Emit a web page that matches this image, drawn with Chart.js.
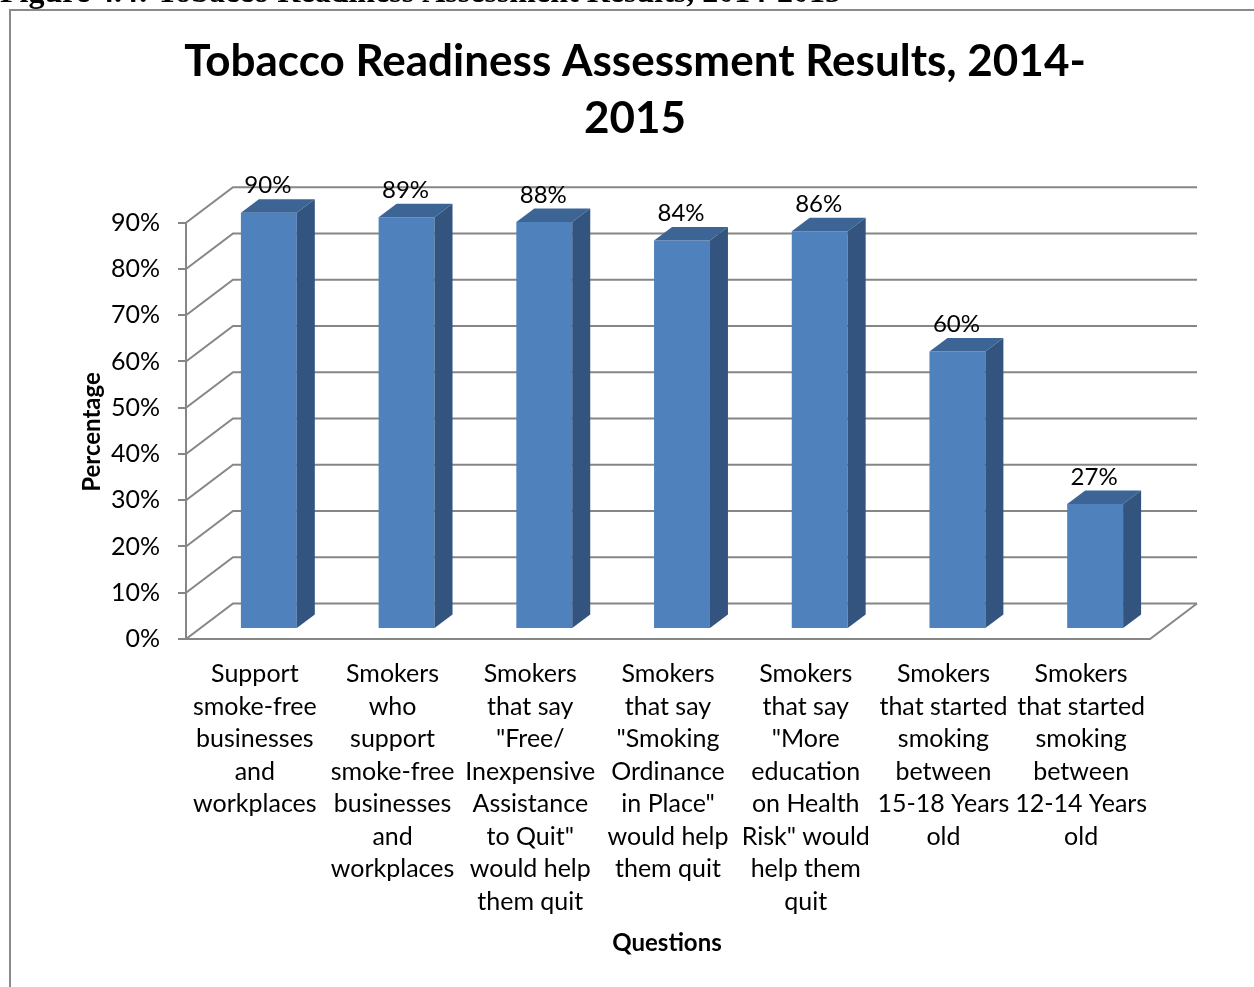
<!DOCTYPE html>
<html lang="en">
<head>
<meta charset="UTF-8">
<meta name="viewport" content="width=device-width, initial-scale=1.0">
<script src="https://cdn.jsdelivr.net/npm/chart.js"></script>
<title>Tobacco Readiness Assessment Results</title>
<style>
  body { margin: 0; background: #fff; }
  canvas { display: block; }
</style>
</head>
<body>
<canvas id="myChart" width="1254" height="987"></canvas>

<script>
  // 질문 (x축 라벨, 줄바꿈 그대로)
  const questions = [
    ['Support', 'smoke-free', 'businesses', 'and', 'workplaces'],
    ['Smokers', 'who', 'support', 'smoke-free', 'businesses', 'and', 'workplaces'],
    ['Smokers', 'that say', '"Free/', 'Inexpensive', 'Assistance', 'to Quit"', 'would help', 'them quit'],
    ['Smokers', 'that say', '"Smoking', 'Ordinance', 'in Place"', 'would help', 'them quit'],
    ['Smokers', 'that say', '"More', 'education', 'on Health', 'Risk" would', 'help them', 'quit'],
    ['Smokers', 'that started', 'smoking', 'between', '15-18 Years', 'old'],
    ['Smokers', 'that started', 'smoking', 'between', '12-14 Years', 'old']
  ];
  // 결과 (%)
  const percents = [90, 89, 88, 84, 86, 60, 27];
  // y축 눈금
  const yTickValues = [0, 10, 20, 30, 40, 50, 60, 70, 80, 90];
  const yTickLabels = ['0%', '10%', '20%', '30%', '40%', '50%', '60%', '70%', '80%', '90%'];

  const lineColor = '#868686';
  const frontColor = '#4F81BD';
  const topColor = '#3C6595';
  const sideColor = '#32547E';
  const font = 'Lato';

  // 3D 느낌 (앞 → 뒷벽)
  const depth = { x: 47, y: -35.5 };
  const barShift = { x: 14, y: -10 };
  const barDepth = { x: 18, y: -13.5 };

  const box3d = {
    id: 'box3d',
    beforeDraw(chart) {
      const { ctx, chartArea: a } = chart;
      const y = chart.scales.y;
      ctx.save();
      ctx.fillStyle = '#fff';
      ctx.fillRect(0, 0, chart.width, chart.height);

      // 테두리 + 잘린 캡션
      ctx.strokeStyle = '#8a8a8a';
      ctx.lineWidth = 2;
      ctx.strokeRect(10, 10, chart.width + 10, chart.height + 10);
      ctx.fillStyle = '#000';
      ctx.font = 'bold 32px "Liberation Serif"';
      ctx.textAlign = 'left';
      ctx.textBaseline = 'alphabetic';
      ctx.fillText('Figure 4.4: Tobacco Readiness Assessment Results, 2014-2015', 0, 2);

      // 옆벽, 뒷벽
      ctx.strokeStyle = lineColor;
      ctx.lineWidth = 2;
      yTickValues.forEach(v => {
        const py = y.getPixelForValue(v);
        ctx.beginPath();
        ctx.moveTo(a.left, py);
        ctx.lineTo(a.left + depth.x, py + depth.y);
        ctx.lineTo(a.right + depth.x, py + depth.y);
        ctx.stroke();
      });
      // 바닥
      ctx.beginPath();
      ctx.moveTo(a.left, a.bottom);
      ctx.lineTo(a.right, a.bottom);
      ctx.lineTo(a.right + depth.x, a.bottom + depth.y);
      ctx.stroke();
      ctx.restore();
    },
    beforeDatasetsDraw(chart) {
      chart.ctx.save();
      chart.ctx.translate(barShift.x, barShift.y);
    },
    afterDatasetsDraw(chart) {
      const ctx = chart.ctx;
      chart.getDatasetMeta(0).data.forEach((bar, i) => {
        const { x, y, base, width } = bar.getProps(['x', 'y', 'base', 'width'], true);
        const l = x - width / 2, r = x + width / 2;
        // 윗면
        ctx.fillStyle = topColor;
        ctx.beginPath();
        ctx.moveTo(l, y);
        ctx.lineTo(l + barDepth.x, y + barDepth.y);
        ctx.lineTo(r + barDepth.x, y + barDepth.y);
        ctx.lineTo(r, y);
        ctx.closePath();
        ctx.fill();
        // 옆면
        ctx.fillStyle = sideColor;
        ctx.beginPath();
        ctx.moveTo(r, y);
        ctx.lineTo(r + barDepth.x, y + barDepth.y);
        ctx.lineTo(r + barDepth.x, base + barDepth.y);
        ctx.lineTo(r, base);
        ctx.closePath();
        ctx.fill();
        // 값 라벨
        ctx.fillStyle = '#000';
        ctx.font = '24px ' + font;
        ctx.textAlign = 'center';
        ctx.textBaseline = 'middle';
        ctx.fillText(percents[i] + '%', x - 1, y - 27);
      });
      ctx.restore();
    },
    afterDraw(chart) {
      const ctx = chart.ctx;
      ctx.save();
      ctx.fillStyle = '#000';
      ctx.textAlign = 'center';
      ctx.textBaseline = 'middle';
      // 제목
      ctx.font = 'bold 44px ' + font;
      ctx.fillText('Tobacco Readiness Assessment Results, 2014-', 635, 62);
      ctx.fillText('2015', 635, 119);
      // 축 제목
      ctx.font = 'bold 24px ' + font;
      ctx.fillText('Questions', 667, 943);
      ctx.translate(92, 432);
      ctx.rotate(-Math.PI / 2);
      ctx.fillText('Percentage', 0, 0);
      ctx.restore();
    }
  };

  const ctx = document.getElementById('myChart');

  new Chart(ctx, {
    type: 'bar',
    data: {
      labels: questions,
      datasets: [{
        data: percents,
        backgroundColor: frontColor,
        borderWidth: 0,
        barPercentage: 1,
        categoryPercentage: 0.406,
        clip: false
      }]
    },
    options: {
      responsive: false,
      animation: false,
      layout: { padding: { top: 222.7, right: 104, bottom: 0, left: 0 } },
      plugins: {
        legend: { display: false },
        tooltip: { enabled: false }
      },
      scales: {
        x: {
          grid: { display: false, drawTicks: false },
          border: { display: false },
          ticks: {
            autoSkip: false,
            maxRotation: 0,
            color: '#000',
            padding: 19,
            font: { family: font, size: 25, lineHeight: '32.5px' }
          },
          afterFit(scale) { scale.height = 348; }
        },
        y: {
          min: 0,
          max: 90,
          ticks: {
            stepSize: 10,
            color: '#000',
            padding: 18,
            font: { family: font, size: 25 },
            callback: v => yTickLabels[yTickValues.indexOf(v)]
          },
          grid: { drawOnChartArea: false, tickLength: 8, color: lineColor, lineWidth: 2 },
          border: { color: lineColor, width: 2 },
          afterFit(scale) { scale.width = 186; }
        }
      }
    },
    plugins: [box3d]
  });
</script>
</body>
</html>
